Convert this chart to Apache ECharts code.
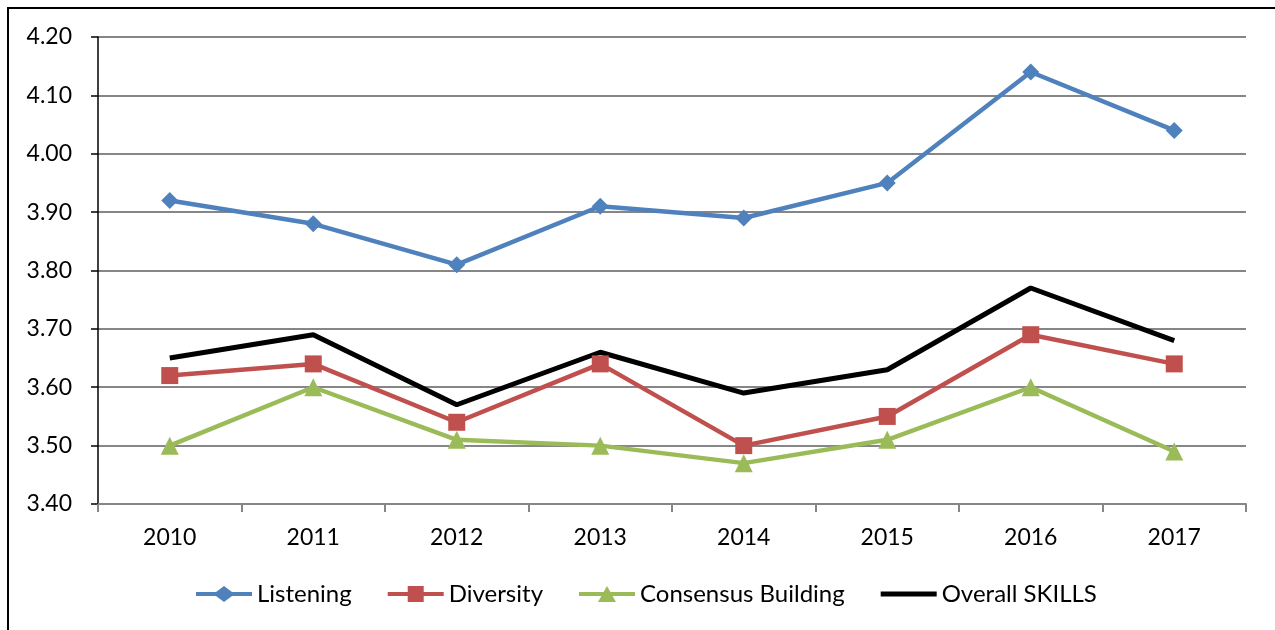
<!DOCTYPE html>
<html>
<head>
<meta charset="utf-8">
<script src="https://cdn.jsdelivr.net/npm/echarts@6/dist/echarts.min.js"></script>
<style>
  html, body { margin: 0; padding: 0; background: #fff; }
  #chart { width: 1275px; height: 630px; }
</style>
</head>
<body>
<div id="chart"></div>
<script>
// Yearly skill scores
const years = ['2010', '2011', '2012', '2013', '2014', '2015', '2016', '2017'];
const listening = [3.92, 3.88, 3.81, 3.91, 3.89, 3.95, 4.14, 4.04];
const diversity = [3.62, 3.64, 3.54, 3.64, 3.50, 3.55, 3.69, 3.64];
const consensusBuilding = [3.50, 3.60, 3.51, 3.50, 3.47, 3.51, 3.60, 3.49];
const overallSkills = [3.65, 3.69, 3.57, 3.66, 3.59, 3.63, 3.77, 3.68];

const FONT = 'Lato, "Open Sans", sans-serif';

// Legend icons: a thick line segment with the series marker in the middle (56 x 16 box)
const ICON_DIAMOND = 'path://M0,6 L20,6 L28,0 L36,6 L56,6 L56,10 L36,10 L28,16 L20,10 L0,10 Z';
const ICON_SQUARE = 'path://M0,6 L20,6 L20,0 L36,0 L36,6 L56,6 L56,10 L36,10 L36,16 L20,16 L20,10 L0,10 Z';
const ICON_TRIANGLE = 'path://M0,6 L24.6,6 L28,0 L31.4,6 L56,6 L56,10 L33.6,10 L37,16 L19,16 L22.4,10 L0,10 Z';
const ICON_LINE = 'path://M0,5.5 L56,5.5 L56,10.5 L0,10.5 Z';

const chart = echarts.init(document.getElementById('chart'), null, { renderer: 'canvas' });

function lineSeries(name, data, color, symbol, symbolSize, width) {
  return {
    name: name,
    type: 'line',
    data: data,
    symbol: symbol,
    symbolSize: symbolSize,
    showSymbol: symbol !== 'none',
    lineStyle: { color: color, width: width },
    itemStyle: { color: color },
    emphasis: { disabled: true },
    animation: false
  };
}

chart.setOption({
  animation: false,
  backgroundColor: '#ffffff',
  graphic: [{
    type: 'rect',
    silent: true,
    shape: { x: 8, y: 8, width: 1400, height: 800 },
    style: { fill: 'none', stroke: '#000', lineWidth: 2 }
  }],
  grid: { left: 98, right: 29, top: 37, bottom: 126 },
  legend: {
    top: 582,
    left: 196,
    padding: 0,
    itemWidth: 56,
    itemHeight: 16,
    itemGap: 36,
    symbolKeepAspect: true,
    textStyle: { fontFamily: FONT, fontSize: 24, color: '#000' },
    data: [
      { name: 'Listening', icon: ICON_DIAMOND },
      { name: 'Diversity', icon: ICON_SQUARE },
      { name: 'Consensus Building', icon: ICON_TRIANGLE },
      { name: 'Overall SKILLS', icon: ICON_LINE }
    ]
  },
  xAxis: {
    type: 'category',
    data: years,
    boundaryGap: true,
    axisLine: { lineStyle: { color: '#868686', width: 2 } },
    axisTick: { show: true, length: 8, lineStyle: { color: '#868686', width: 2 } },
    axisLabel: { fontFamily: FONT, fontSize: 23, color: '#000', margin: 22 },
    splitLine: { show: false }
  },
  yAxis: {
    type: 'value',
    min: 3.4,
    max: 4.2,
    interval: 0.1,
    axisLine: { show: true, lineStyle: { color: '#000', width: 1.5 } },
    axisTick: { show: true, length: 7, lineStyle: { color: '#000', width: 1.5 } },
    axisLabel: {
      fontFamily: FONT, fontSize: 23, color: '#000', margin: 26,
      formatter: v => v.toFixed(2)
    },
    splitLine: { show: true, lineStyle: { color: '#868686', width: 2 } }
  },
  series: [
    lineSeries('Listening', listening, '#4F81BD', 'diamond', 17, 4.5),
    lineSeries('Diversity', diversity, '#C0504D', 'rect', 17, 4.5),
    lineSeries('Consensus Building', consensusBuilding, '#9BBB59', 'triangle', 18, 4.5),
    lineSeries('Overall SKILLS', overallSkills, '#000000', 'none', 0, 5)
  ]
});
</script>
</body>
</html>
